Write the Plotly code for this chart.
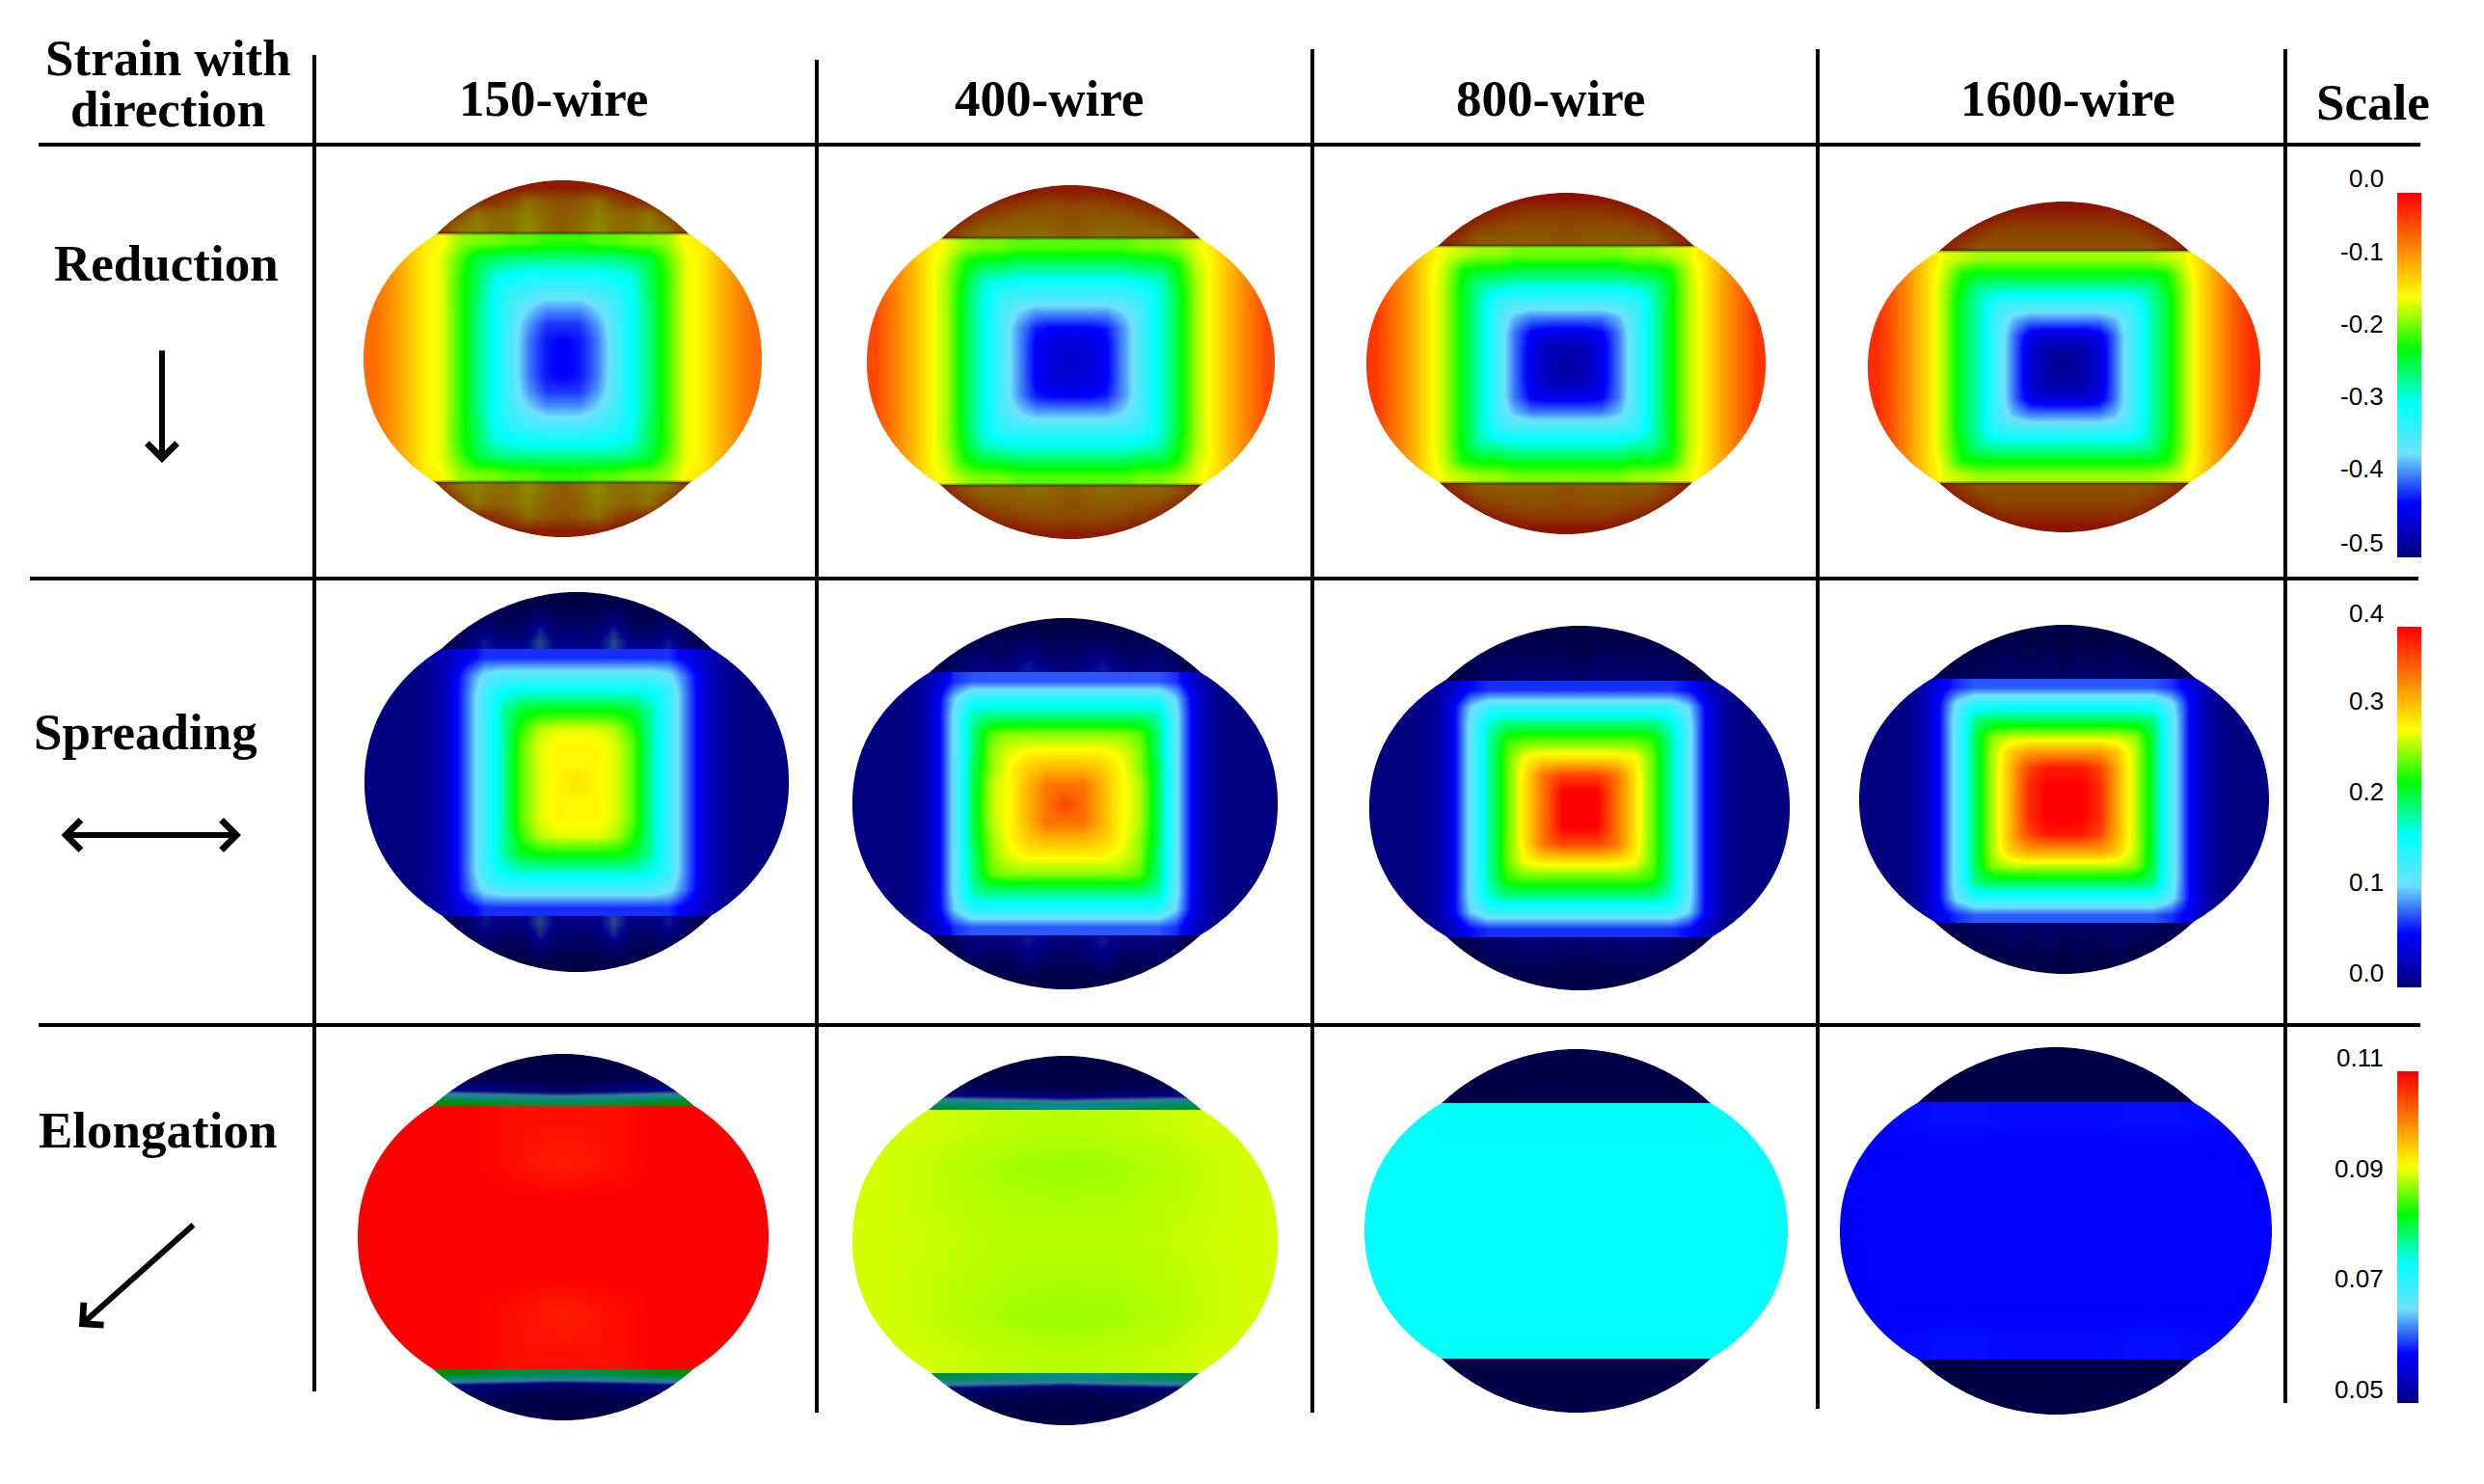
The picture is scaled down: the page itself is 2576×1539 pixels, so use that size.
import numpy as np
import plotly.graph_objects as go

# labels
COLUMN_LABELS = ["150-wire", "400-wire", "800-wire", "1600-wire"]
ROW_LABELS = ["Reduction", "Spreading", "Elongation"]
REDUCTION_TICKS = ["0.0", "-0.1", "-0.2", "-0.3", "-0.4", "-0.5"]
SPREADING_TICKS = ["0.4", "0.3", "0.2", "0.1", "0.0"]
ELONGATION_TICKS = ["0.11", "0.09", "0.07", "0.05"]

# strain ranges of the three scale bars
REDUCTION_RANGE = [-0.5, 0.0]
SPREADING_RANGE = [0.0, 0.4]
ELONGATION_RANGE = [0.05, 0.11]

# strain. The sections are symmetric so only one quarter
# is kept: first row = mid height, first column = mid width
REDUCTION_150 = [
    [-.43, -.42, -.39, -.34, -.29, -.25, -.20, -.15, -.135, -.105, -.08, -.06],
    [-.43, -.42, -.39, -.34, -.29, -.25, -.20, -.15, -.135, -.105, -.08, -.06],
    [-.41, -.41, -.38, -.34, -.29, -.25, -.20, -.15, -.135, -.105, -.08, -.06],
    [-.38, -.38, -.36, -.33, -.29, -.25, -.20, -.15, -.135, -.105, -.08, -.06],
    [-.34, -.34, -.33, -.32, -.29, -.24, -.20, -.15, -.135, -.105, -.08, -.06],
    [-.30, -.30, -.30, -.29, -.28, -.24, -.20, -.15, -.135, -.105, -.08, -.06],
    [-.25, -.25, -.25, -.25, -.24, -.23, -.19, -.15, -.135, -.105, -.08, -.06],
    [-.20, -.20, -.19, -.19, -.18, -.18, -.17, -.14, -.13, -.105, -.08, -.06],
]
REDUCTION_400 = [
    [-.46, -.45, -.43, -.38, -.33, -.28, -.23, -.17, -.135, -.10, -.07, -.04],
    [-.45, -.45, -.43, -.38, -.33, -.28, -.23, -.17, -.135, -.10, -.07, -.04],
    [-.43, -.43, -.42, -.38, -.33, -.28, -.23, -.17, -.135, -.10, -.07, -.04],
    [-.38, -.38, -.38, -.36, -.33, -.28, -.23, -.17, -.135, -.10, -.07, -.04],
    [-.33, -.33, -.33, -.33, -.32, -.28, -.23, -.17, -.135, -.10, -.07, -.04],
    [-.29, -.29, -.29, -.29, -.28, -.27, -.22, -.17, -.135, -.10, -.07, -.04],
    [-.24, -.24, -.24, -.24, -.23, -.23, -.21, -.16, -.135, -.10, -.07, -.04],
    [-.19, -.19, -.19, -.19, -.18, -.18, -.17, -.15, -.13, -.10, -.07, -.04],
]
REDUCTION_800 = [
    [-.48, -.47, -.44, -.39, -.33, -.27, -.22, -.165, -.13, -.09, -.06, -.03],
    [-.47, -.47, -.44, -.39, -.33, -.27, -.22, -.165, -.13, -.09, -.06, -.03],
    [-.44, -.44, -.43, -.39, -.33, -.27, -.22, -.165, -.13, -.09, -.06, -.03],
    [-.39, -.39, -.39, -.37, -.33, -.27, -.22, -.165, -.13, -.09, -.06, -.03],
    [-.33, -.33, -.33, -.33, -.32, -.27, -.22, -.165, -.13, -.09, -.06, -.03],
    [-.28, -.28, -.28, -.28, -.27, -.26, -.22, -.165, -.13, -.09, -.06, -.03],
    [-.23, -.23, -.23, -.23, -.22, -.22, -.21, -.16, -.13, -.09, -.06, -.03],
    [-.18, -.18, -.18, -.18, -.17, -.17, -.16, -.15, -.125, -.09, -.06, -.03],
]
REDUCTION_1600 = [
    [-.49, -.48, -.45, -.39, -.33, -.27, -.23, -.17, -.125, -.085, -.05, -.025],
    [-.48, -.48, -.45, -.39, -.33, -.27, -.23, -.17, -.125, -.085, -.05, -.025],
    [-.45, -.45, -.44, -.39, -.33, -.27, -.23, -.17, -.125, -.085, -.05, -.025],
    [-.39, -.39, -.39, -.37, -.33, -.27, -.23, -.17, -.125, -.085, -.05, -.025],
    [-.33, -.33, -.33, -.33, -.32, -.27, -.23, -.17, -.125, -.085, -.05, -.025],
    [-.27, -.27, -.27, -.27, -.27, -.26, -.22, -.17, -.125, -.085, -.05, -.025],
    [-.22, -.22, -.22, -.22, -.22, -.22, -.21, -.16, -.125, -.085, -.05, -.025],
    [-.17, -.17, -.17, -.17, -.17, -.17, -.16, -.15, -.12, -.085, -.05, -.025],
]
SPREADING_150 = [
    [.30, .29, .28, .25, .19, .14, .085, .035, .01, 0, 0, 0],
    [.29, .29, .28, .25, .19, .14, .085, .035, .01, 0, 0, 0],
    [.29, .29, .28, .25, .19, .14, .085, .035, .01, 0, 0, 0],
    [.28, .28, .27, .24, .19, .14, .085, .035, .01, 0, 0, 0],
    [.23, .23, .23, .22, .19, .14, .085, .035, .01, 0, 0, 0],
    [.18, .18, .18, .18, .17, .14, .085, .035, .01, 0, 0, 0],
    [.13, .13, .13, .13, .13, .12, .08, .035, .01, 0, 0, 0],
    [.07, .07, .07, .07, .07, .07, .05, .03, .01, 0, 0, 0],
]
SPREADING_400 = [
    [.37, .35, .32, .29, .27, .21, .12, .045, .01, 0, 0, 0],
    [.35, .35, .32, .29, .27, .21, .12, .045, .01, 0, 0, 0],
    [.32, .32, .31, .29, .26, .21, .12, .045, .01, 0, 0, 0],
    [.29, .29, .29, .28, .26, .20, .12, .045, .01, 0, 0, 0],
    [.26, .26, .26, .26, .25, .20, .12, .045, .01, 0, 0, 0],
    [.20, .20, .20, .20, .20, .19, .12, .045, .01, 0, 0, 0],
    [.15, .15, .15, .15, .15, .15, .11, .045, .01, 0, 0, 0],
    [.08, .08, .08, .08, .08, .08, .07, .03, .01, 0, 0, 0],
]
SPREADING_800 = [
    [.40, .40, .35, .30, .25, .19, .12, .05, .01, 0, 0, 0],
    [.40, .40, .35, .30, .25, .19, .12, .05, .01, 0, 0, 0],
    [.37, .37, .35, .30, .25, .19, .12, .05, .01, 0, 0, 0],
    [.30, .30, .30, .29, .25, .19, .12, .05, .01, 0, 0, 0],
    [.25, .25, .25, .25, .24, .19, .12, .05, .01, 0, 0, 0],
    [.20, .20, .20, .20, .20, .18, .12, .05, .01, 0, 0, 0],
    [.14, .14, .14, .14, .14, .14, .11, .05, .01, 0, 0, 0],
    [.07, .07, .07, .07, .07, .07, .06, .03, .01, 0, 0, 0],
]
SPREADING_1600 = [
    [.40, .40, .38, .32, .27, .21, .13, .06, .02, 0, 0, 0],
    [.40, .40, .38, .32, .27, .21, .13, .06, .02, 0, 0, 0],
    [.39, .39, .37, .32, .27, .21, .13, .06, .02, 0, 0, 0],
    [.33, .33, .33, .31, .27, .21, .13, .06, .02, 0, 0, 0],
    [.27, .27, .27, .27, .26, .21, .13, .06, .02, 0, 0, 0],
    [.21, .21, .21, .21, .21, .20, .13, .06, .02, 0, 0, 0],
    [.15, .15, .15, .15, .15, .15, .12, .06, .02, 0, 0, 0],
    [.08, .08, .08, .08, .08, .08, .07, .05, .02, 0, 0, 0],
]
ELONGATION_150 = [
    [.110, .110, .110, .110, .110],
    [.110, .110, .110, .110, .110],
    [.108, .109, .110, .110, .110],
    [.109, .109, .110, .110, .110],
]
ELONGATION_400 = [
    [.0905, .0905, .0908, .0912, .0915],
    [.0902, .0902, .0906, .0910, .0915],
    [.0895, .0898, .0903, .0910, .0915],
    [.0905, .0907, .0910, .0915, .0915],
]
ELONGATION_800 = [
    [.0752, .0752, .0752, .0752, .0752],
    [.0752, .0752, .0752, .0752, .0752],
    [.0752, .0752, .0752, .0752, .0752],
    [.0755, .0755, .0755, .0755, .0752],
]
ELONGATION_1600 = [
    [.0588, .0588, .0588, .0588, .0588],
    [.0588, .0588, .0588, .0588, .0588],
    [.0588, .0588, .0588, .0588, .0588],
    [.0592, .0592, .0593, .0592, .0588],
]

# darkened end caps: first row = outer edge, last row = next to the section,
# first column = mid width
REDUCTION_150_CAP = [
    [-.03, -.03, -.03, -.02, -.01, -.01, -.01, -.01],
    [-.08, -.09, -.11, -.07, -.05, -.03, -.01, -.01],
    [-.09, -.10, -.13, -.11, -.10, -.12, -.06, -.02],
    [-.09, -.11, -.14, -.11, -.11, -.13, -.11, -.06],
]
REDUCTION_400_CAP = [
    [-.03, -.03, -.03, -.02, -.01, -.01, -.01, -.01],
    [-.07, -.08, -.07, -.06, -.05, -.03, -.01, -.01],
    [-.08, -.09, -.09, -.09, -.08, -.07, -.04, -.02],
    [-.09, -.10, -.11, -.10, -.10, -.10, -.08, -.04],
]
REDUCTION_800_CAP = [
    [-.02, -.02, -.02, -.02, -.01, -.01, -.01, -.01],
    [-.06, -.06, -.06, -.05, -.04, -.02, -.01, -.01],
    [-.07, -.08, -.08, -.08, -.07, -.06, -.03, -.01],
    [-.08, -.09, -.09, -.09, -.09, -.09, -.06, -.03],
]
REDUCTION_1600_CAP = [
    [-.02, -.02, -.02, -.02, -.01, -.01, -.01, -.01],
    [-.05, -.05, -.05, -.05, -.04, -.02, -.01, -.01],
    [-.07, -.07, -.07, -.07, -.07, -.05, -.03, -.01],
    [-.08, -.08, -.08, -.08, -.08, -.08, -.06, -.03],
]
SPREADING_150_CAP = [
    [0, 0, 0, 0, 0, 0, 0, 0],
    [.01, .01, .03, .01, .01, .01, 0, 0],
    [.03, .03, .07, .02, .02, .04, .01, 0],
    [.05, .05, .09, .05, .05, .07, .03, 0],
]
SPREADING_400_CAP = [
    [0, 0, 0, 0, 0, 0, 0, 0],
    [.01, .01, .02, .01, .01, .01, 0, 0],
    [.02, .03, .05, .02, .02, .03, .01, 0],
    [.04, .05, .07, .05, .04, .05, .02, 0],
]
SPREADING_800_CAP = [
    [0, 0, 0, 0, 0, 0, 0, 0],
    [0, .01, .01, .01, .01, 0, 0, 0],
    [.01, .02, .02, .02, .02, .02, 0, 0],
    [.03, .04, .03, .04, .03, .03, .01, 0],
]
SPREADING_1600_CAP = [
    [0, 0, 0, 0, 0, 0, 0, 0],
    [0, .01, 0, .01, 0, 0, 0, 0],
    [.01, .02, .01, .02, .01, .01, 0, 0],
    [.02, .03, .02, .03, .02, .02, .01, 0],
]
ELONGATION_150_CAP = [
    [.050, .050, .050, .050],
    [.050, .050, .050, .050],
    [.050, .051, .052, .053],
    [.054, .056, .058, .060],
    [.079, .080, .082, .084],
]
ELONGATION_400_CAP = [
    [.050, .050, .050, .050],
    [.050, .050, .050, .050],
    [.050, .050, .051, .052],
    [.052, .054, .055, .056],
    [.074, .076, .078, .080],
]
ELONGATION_800_CAP = [[.050, .050], [.050, .050]]
ELONGATION_1600_CAP = [[.050, .050], [.050, .050]]

# drawing positions, page pixels: left, right, top, bottom, section top, section bottom
REDUCTION_BOX = [(377, 790, 187, 557, 242, 500), (899, 1322, 192, 559, 247, 503),
                 (1417, 1831, 200, 554, 255, 501), (1937, 2344, 209, 552, 260, 501)]
SPREADING_BOX = [(378, 818, 614, 1008, 673, 950), (884, 1325, 641, 1026, 697, 970),
                 (1420, 1856, 649, 1027, 706, 972), (1928, 2353, 648, 1010, 704, 957)]
ELONGATION_BOX = [(371, 797, 1093, 1473, 1147, 1420), (884, 1325, 1095, 1478, 1151, 1424),
                  (1415, 1854, 1088, 1465, 1144, 1409), (1908, 2356, 1086, 1467, 1143, 1410)]
JUNCTION = 0.635
SIDE_POWER = 2.12
CAP_POWER = 1.95
DARKEN = 0.45

JET = [[0, "rgb(0,0,128)"], [0.147, "rgb(0,0,255)"], [0.284, "rgb(110,225,250)"],
       [0.42, "rgb(0,255,255)"], [0.573, "rgb(0,255,0)"], [0.716, "rgb(255,255,0)"],
       [1, "rgb(255,0,0)"]]

fig = go.Figure()
shapes = []
annotations = []


def mirror_cols(q):
    q = np.array(q, dtype=float)
    return np.hstack([q[:, ::-1], q[:, 1:]])


def mirror_quarter(q):
    q = np.array(q, dtype=float)
    return mirror_cols(np.vstack([q[::-1], q[1:]]))


def add_field(z, x_left, x_right, y_top, y_bot, zrange):
    dx = (x_right - x_left) / z.shape[1]
    dy = (y_bot - y_top) / z.shape[0]
    fig.add_trace(go.Heatmap(
        z=z, x0=x_left + dx / 2, dx=dx, y0=y_top + dy / 2, dy=dy,
        zmin=zrange[0], zmax=zrange[1], colorscale=JET, zsmooth="best",
        showscale=False, hoverinfo="skip",
    ))


def polar_radius(ang, rx, ry, p):
    return (np.abs(np.cos(ang) / rx) ** p + np.abs(np.sin(ang) / ry) ** p) ** (-1 / p)


def outline_path(left, right, top, bot, rtop, rbot):
    # section outline: side lobe and end cap curves meet at the section corners
    cx, cy = (left + right) / 2, (top + bot) / 2
    rx, ty = (right - left) / 2, (bot - top) / 2
    jx, jy = rx * JUNCTION, (rbot - rtop) / 2
    ry1 = jy / (1 - JUNCTION ** SIDE_POWER) ** (1 / SIDE_POWER)
    rx2 = jx / (1 - (jy / ty) ** CAP_POWER) ** (1 / CAP_POWER)
    ang = np.linspace(0, 2 * np.pi, 360, endpoint=False)
    r = np.maximum(polar_radius(ang, rx, ry1, SIDE_POWER), polar_radius(ang, rx2, ty, CAP_POWER))
    xs, ys = cx + r * np.cos(ang), cy + r * np.sin(ang)
    pts = " L".join(f"{a:.1f},{b:.1f}" for a, b in zip(xs, ys))
    m = 8
    return (f"M{left - m},{top - m} L{right + m},{top - m} L{right + m},{bot + m} "
            f"L{left - m},{bot + m} Z M{pts} Z")


def add_panel(body, cap, box, zrange, seam):
    left, right, top, bot, rtop, rbot = box
    cx = (left + right) / 2
    half = (right - left) / 2 * JUNCTION + 4
    add_field(mirror_quarter(body), left, right, rtop, rbot, zrange)
    cap_z = mirror_cols(cap)
    add_field(cap_z, cx - half, cx + half, top, rtop, zrange)
    add_field(cap_z[::-1], cx - half, cx + half, rbot, bot, zrange)
    for y0, y1 in [(top - 4, rtop), (rbot, bot + 4)]:
        shapes.append(dict(type="rect", x0=left, x1=right, y0=y0, y1=y1, layer="above",
                           line_width=0, fillcolor=f"rgba(0,0,0,{DARKEN})"))
    if seam:
        for y in (rtop, rbot):
            shapes.append(dict(type="line", x0=left, x1=right, y0=y, y1=y, layer="above",
                               line=dict(color="rgba(0,0,0,0.35)", width=3)))
    shapes.append(dict(type="path", path=outline_path(*box), layer="above", line_width=0,
                       fillcolor="white", fillrule="evenodd"))


ROWS = [
    ([REDUCTION_150, REDUCTION_400, REDUCTION_800, REDUCTION_1600],
     [REDUCTION_150_CAP, REDUCTION_400_CAP, REDUCTION_800_CAP, REDUCTION_1600_CAP],
     REDUCTION_BOX, REDUCTION_RANGE, True),
    ([SPREADING_150, SPREADING_400, SPREADING_800, SPREADING_1600],
     [SPREADING_150_CAP, SPREADING_400_CAP, SPREADING_800_CAP, SPREADING_1600_CAP],
     SPREADING_BOX, SPREADING_RANGE, False),
    ([ELONGATION_150, ELONGATION_400, ELONGATION_800, ELONGATION_1600],
     [ELONGATION_150_CAP, ELONGATION_400_CAP, ELONGATION_800_CAP, ELONGATION_1600_CAP],
     ELONGATION_BOX, ELONGATION_RANGE, False),
]
for bodies, caps, boxes, zrange, seam in ROWS:
    for body, cap, box in zip(bodies, caps, boxes):
        add_panel(body, cap, box, zrange, seam)

# scale bars
BAR_BOXES = [(2486, 2511, 200, 578), (2486, 2511, 650, 1024), (2486, 2508, 1111, 1455)]
for (x0, x1, y0, y1), zrange in zip(BAR_BOXES, [REDUCTION_RANGE, SPREADING_RANGE, ELONGATION_RANGE]):
    ramp = np.linspace(zrange[1], zrange[0], 160)
    add_field(np.column_stack([ramp, ramp]), x0, x1, y0, y1, zrange)

# table rules
H_RULES = [(150, 40, 2510), (600, 31, 2508), (1063, 40, 2510)]
V_RULES = [(326, 57, 1443), (847, 62, 1465), (1361, 51, 1465), (1885, 51, 1461), (2370, 51, 1455)]
for y, x0, x1 in H_RULES:
    shapes.append(dict(type="line", x0=x0, x1=x1, y0=y, y1=y, layer="above",
                       line=dict(color="black", width=4)))
for x, y0, y1 in V_RULES:
    shapes.append(dict(type="line", x0=x, x1=x, y0=y0, y1=y1, layer="above",
                       line=dict(color="black", width=4)))


def add_text(text, x, y, size=53, family="Liberation Serif", bold=True, xanchor="center"):
    annotations.append(dict(
        text=text, x=x, y=y, xref="x", yref="y", showarrow=False, xanchor=xanchor,
        yanchor="middle", font=dict(family=family, size=size, color="black",
                                    weight="bold" if bold else "normal"),
    ))


add_text("Strain with", 174, 60)
add_text("direction", 174, 113)
for label, x in zip(COLUMN_LABELS, [574, 1088, 1608, 2144]):
    add_text(label, x, 102)
add_text("Scale", 2461, 106)
for label, (x, y) in zip(ROW_LABELS, [(172, 273), (151, 759), (163, 1172)]):
    add_text(label, x, y)

TICK_ROWS = [
    (REDUCTION_TICKS, [185, 261, 336, 411, 486, 563]),
    (SPREADING_TICKS, [636, 727, 821, 915, 1009]),
    (ELONGATION_TICKS, [1097, 1212, 1326, 1441]),
]
for ticks, ys in TICK_ROWS:
    for label, y in zip(ticks, ys):
        add_text(label, 2474, y, size=26, family="Liberation Sans", bold=False, xanchor="right")


def add_arrow(x_tail, y_tail, x_tip, y_tip, both=False):
    annotations.append(dict(
        x=x_tip, y=y_tip, ax=x_tail, ay=y_tail, xref="x", yref="y", axref="x", ayref="y",
        text="", showarrow=True, arrowhead=4, arrowsize=1, arrowwidth=6, arrowcolor="black",
        startarrowhead=4, startarrowsize=1, arrowside="end+start" if both else "end",
    ))


add_arrow(168, 362, 168, 480)
add_arrow(62, 866, 250, 866, both=True)
add_arrow(202, 1269, 82, 1376)

fig.update_layout(
    width=2576, height=1539, margin=dict(l=0, r=0, t=0, b=0),
    paper_bgcolor="white", plot_bgcolor="white", showlegend=False,
    xaxis=dict(range=[0, 2576], visible=False, fixedrange=True),
    yaxis=dict(range=[1539, 0], visible=False, fixedrange=True),
    shapes=shapes, annotations=annotations,
)
fig.write_html("out.html", config=dict(displayModeBar=False),
               post_script="document.body.style.margin='0';")
